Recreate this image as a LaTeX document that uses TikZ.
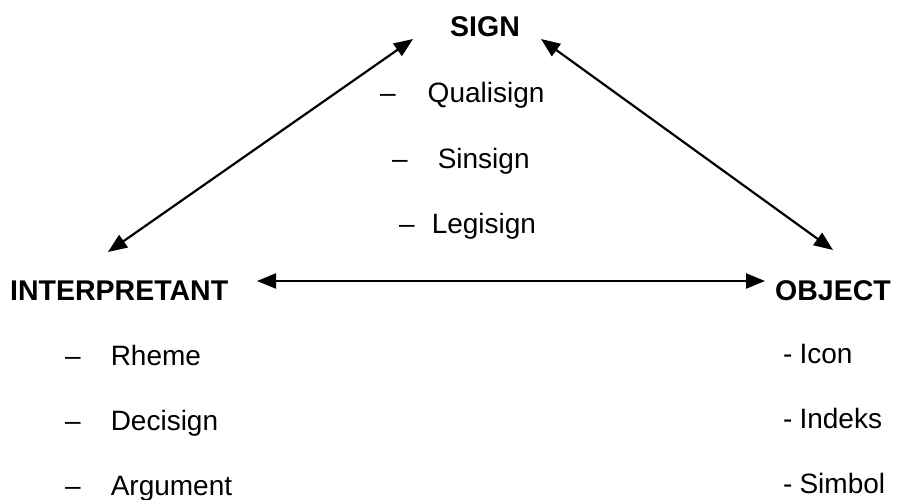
\documentclass[tikz,border=0pt]{standalone}
\usepackage{fontspec}
\setmainfont{Liberation Sans}
\usetikzlibrary{arrows.meta}
\tikzset{
  txt/.style={inner sep=0pt, anchor=base west, font=\fontsize{28}{34}\selectfont},
  head/.style={txt, font=\fontsize{28.5}{34}\selectfont\bfseries},
  link/.style={{Triangle[length=19pt,width=15pt]}-{Triangle[length=19pt,width=15pt]}, line width=2.2pt}
}
\begin{document}
\begin{tikzpicture}[x=1pt,y=-1pt]
\useasboundingbox (0,0) rectangle (907,500);

% Koppen
\node[head] (sign) at (450,37) {SIGN};
\node[head] (interp) at (10,300) {INTERPRETANT};
\node[head] (object) at (775,300) {OBJECT};

% Onder SIGN
\node[txt] (quali) at (380,103) {\textendash\hspace{32pt}Qualisign};
\node[txt] (sin) at (392,168) {\textendash\hspace{30pt}Sinsign};
\node[txt] (legi) at (399,233) {\textendash\hspace{17pt}Legisign};

% Onder INTERPRETANT
\foreach \naam/\y in {Rheme/365, Decisign/430, Argument/495}
  \node[txt] (i-\naam) at (65,\y) {\textendash\hspace{30pt}\naam};

% Onder OBJECT
\foreach \naam/\y in {Icon/363, Indeks/428, Simbol/493}
  \node[txt] (o-\naam) at (783,\y) {-\hspace{7pt}\naam};

% Pijlen
\coordinate (sl) at (413,39);
\coordinate (sr) at (541,39);
\coordinate (il) at (108,252);
\coordinate (ir) at (257,281);
\coordinate (ol) at (765,281);
\coordinate (ot) at (833,250);
\draw[link] (sl) -- (il);
\draw[link] (sr) -- (ot);
\draw[link] (ir) -- (ol);
\end{tikzpicture}
\end{document}
